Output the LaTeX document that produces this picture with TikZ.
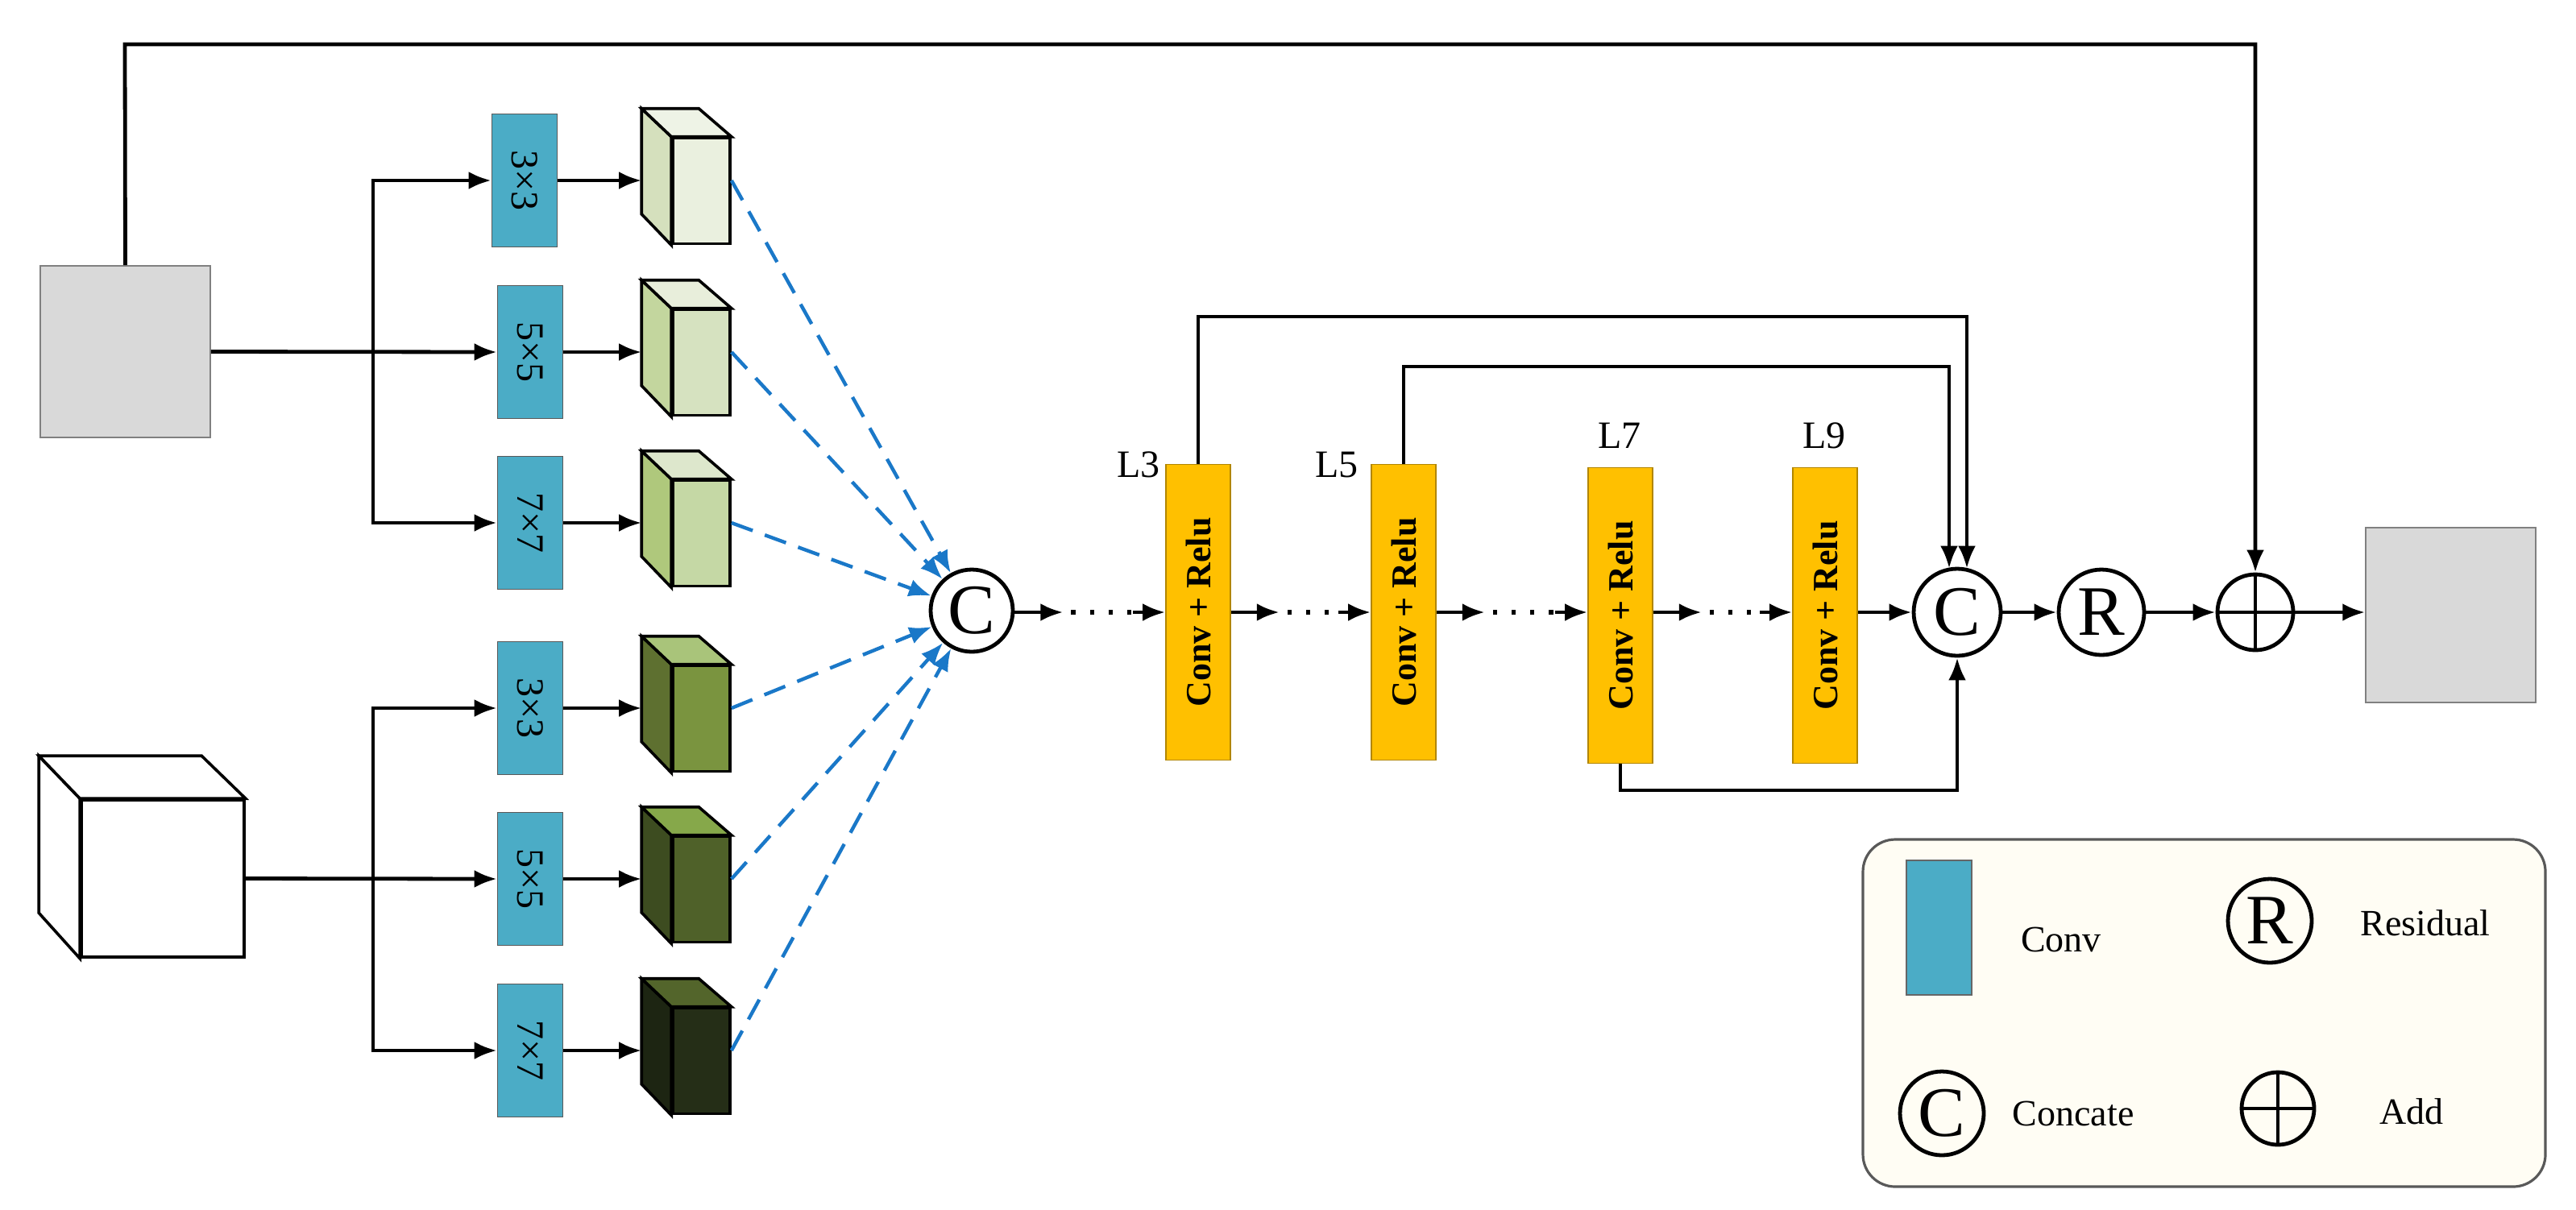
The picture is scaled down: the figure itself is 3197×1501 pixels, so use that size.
\documentclass[tikz,border=0pt]{standalone}
\usepackage{fontspec}
\setmainfont{Liberation Serif}
\usetikzlibrary{arrows.meta,calc}
\definecolor{convc}{HTML}{4BACC6}
\definecolor{lay}{HTML}{FFC000}
\definecolor{dblue}{HTML}{1A78C8}
\definecolor{cream}{HTML}{FFFDF4}
\begin{document}
\begin{tikzpicture}[x=0.25pt,y=-0.25pt,
 arr/.style={line width=1.2pt,-{Latex[length=7pt,width=5.5pt]}},
 ln/.style={line width=1.2pt},
 dsh/.style={line width=1.1pt,dblue,dash pattern=on 7pt off 4pt,-{Latex[length=7pt,width=5.5pt]}},
 conv/.style={draw=gray!70!black,fill=convc,minimum width=20.25pt,minimum height=41.25pt,inner sep=0pt,font=\fontsize{12}{12}\selectfont},
 cubef/.style={draw,line width=0.9pt,minimum width=17.75pt,minimum height=32.75pt,inner sep=0pt},
 lay/.style={draw=lay!70!black,fill=lay,minimum width=20pt,minimum height=91.75pt,inner sep=0pt,font=\bfseries\fontsize{11}{11}\selectfont},
 op/.style={circle,draw,line width=1.2pt,inner sep=0pt,font=\fontsize{22}{22}\selectfont},
 plus/.style={circle,draw,line width=1.2pt,inner sep=0pt,path picture={\draw[line width=0.8pt] (path picture bounding box.north)--(path picture bounding box.south) (path picture bounding box.west)--(path picture bounding box.east);}},
 gray box/.style={draw=gray,fill=black!15,inner sep=0pt}]
\useasboundingbox (0,0) rectangle (3197,1501);

% inputs
\node[gray box,minimum width=52.75pt,minimum height=53.25pt] (sq) at (155.5,436.5) {};
\node[draw,line width=0.9pt,fill=white,minimum width=50.5pt,minimum height=48.75pt,inner sep=0pt] (bc) at (202,1090.5) {};
\draw[line width=0.9pt,fill=white] (bc.north west) -- ++(-51,-53) -- ++(0,195) -- (bc.south west) -- cycle;
\draw[line width=0.9pt,fill=white] (bc.north west) -- ++(-51,-53) -- ++(202,0) -- (bc.north east) -- cycle;

% conv boxes
\foreach \n/\x/\y/\t in {c1/651/224/3×3, c2/658/437/5×5, c3/658/649/7×7, c4/658/879/3×3, c5/658/1091/5×5, c6/658/1304/7×7}
  \node[conv] (\n) at (\x,\y) {\rotatebox{-90}{\t}};

% cubes
\foreach \n/\y/\f/\s/\t in {k1/224/EAF0DF/D5E0BD/EEF3E6, k2/437/D6E2C0/C3D69E/E8EEDB, k3/649/C5D8A5/AFC87C/DDE7CC, k4/879/7A943F/5E7030/A9C47A, k5/1091/4F6129/3D4C20/86A84A, k6/1304/252E17/1D2512/53652B}{
  \definecolor{cf}{HTML}{\f}\definecolor{cs}{HTML}{\s}\definecolor{ct}{HTML}{\t}
  \node[cubef,fill=cf] (\n) at (870.5,\y+13) {};
  \draw[line width=0.9pt,fill=cs] (\n.north west) -- ++(-37,-35) -- ++(0,131) -- (\n.south west) -- cycle;
  \draw[line width=0.9pt,fill=ct] (\n.north west) -- ++(-37,-35) -- ++(71,0) -- (\n.north east) -- cycle;
}

% branches
\coordinate (b1) at (463,437);
\coordinate (b2) at (463,1091);
\draw[arr] (sq.east) -- (c2.west);
\draw[arr] (b1) |- (c1.west);
\draw[arr] (b1) |- (c3.west);
\draw[arr] (bc.east) -- (c5.west);
\draw[arr] (b2) |- (c4.west);
\draw[arr] (b2) |- (c6.west);
\foreach \i in {1,...,6}
  \draw[arr] (c\i.east) -- ($(c\i.east -| k\i.west)+(-37,0)$);

% concat 1
\node[op,minimum size=25.5pt] (C1) at (1206,758) {C};
\foreach \i in {1,...,6}
  \draw[dsh] ($(k\i.east)+(0,-13)$) -- (C1);

% layers
\node[lay] (L3) at (1487,760) {\rotatebox{90}{Conv + Relu}};
\node[lay] (L5) at (1742,760) {\rotatebox{90}{Conv + Relu}};
\node[lay] (L7) at (2011,764) {\rotatebox{90}{Conv + Relu}};
\node[lay] (L9) at (2265,764) {\rotatebox{90}{Conv + Relu}};
\node[font=\fontsize{12}{12}\selectfont] at (1413,577) {L3};
\node[font=\fontsize{12}{12}\selectfont] at (1659,577) {L5};
\node[font=\fontsize{12}{12}\selectfont] at (2010,541) {L7};
\node[font=\fontsize{12}{12}\selectfont] at (2264,541) {L9};

\node[op,minimum size=27pt] (C2) at (2429,760) {C};
\node[op,minimum size=26.5pt] (R) at (2608,760) {R};
\node[plus,minimum size=23.5pt] (P) at (2799,760) {};
\node[gray box,minimum width=52.75pt,minimum height=54.25pt] (out) at (3041.5,763.5) {};

% chain with dots
\foreach \a/\b in {C1/L3,L3/L5,L5/L7,L7/L9}{
  \draw[arr] (\a.east |- 0,760) -- ++(60,0);
  \draw[line width=1.3pt,dash pattern=on 1.3pt off 4.5pt] ($(\a.east |- 0,760)+(70,0)$) -- ($(\b.west |- 0,760)+(-40,0)$);
  \draw[arr] ($(\b.west |- 0,760)+(-40,0)$) -- (\b.west |- 0,760);
}
\draw[arr] (L9.east |- C2.west) -- (C2.west);
\draw[arr] (C2) -- (R);
\draw[arr] (R) -- (P);
\draw[arr] (P) -- (out.west |- P);

% skips
\draw[arr] (L3.north) -- (1487,393) -| ($(C2.north)+(12,2)$);
\draw[arr] (L5.north) -- (1742,455) -| ($(C2.north)+(-10,2)$);
\draw[arr] (L7.south) -- (2011,981) -| (C2.south);
\draw[arr] (sq.north) -- (155,55) -| (P.north);

% legend
\node[draw=gray!70!black,fill=cream,rounded corners=10pt,line width=0.8pt,minimum width=211.75pt,minimum height=107.75pt] (leg) at (2735.5,1257.5) {};
\node[draw=black!60,fill=convc,minimum width=20.25pt,minimum height=41.75pt,inner sep=0pt] (lc) at (2406.5,1151.5) {};
\node[font=\fontsize{11.5}{12}\selectfont] (lct) at (2558,1166) {Conv};
\node[op,minimum size=26pt] (lr) at (2817,1143) {R};
\node[font=\fontsize{11.5}{12}\selectfont] (lrt) at (3010,1146) {Residual};
\node[op,minimum size=26pt] (lC) at (2410,1382) {C};
\node[font=\fontsize{11.5}{12}\selectfont] (lCt) at (2573,1382) {Concate};
\node[plus,minimum size=22.5pt] (lp) at (2827,1376) {};
\node[font=\fontsize{11.5}{12}\selectfont] (lpt) at (2993,1380) {Add};
\end{tikzpicture}
\end{document}
